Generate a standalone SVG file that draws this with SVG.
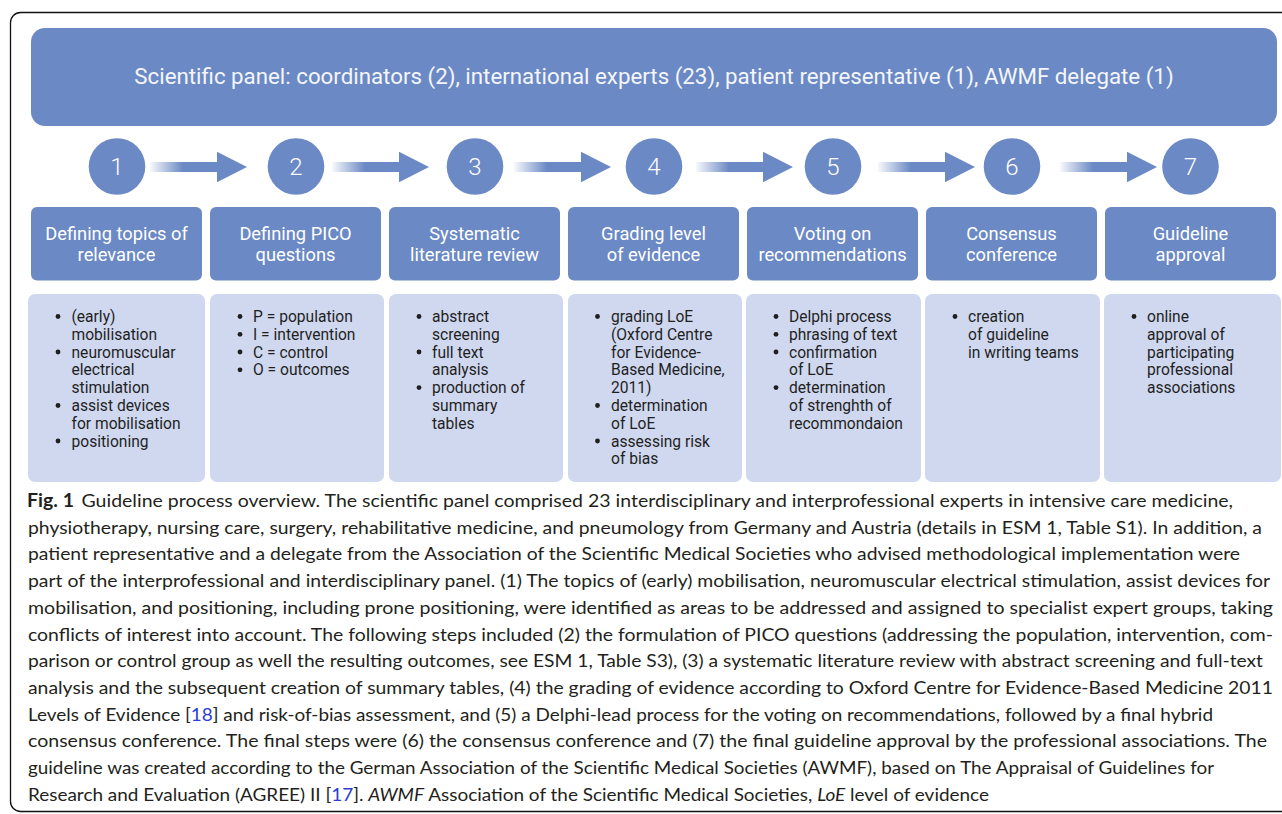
<svg xmlns="http://www.w3.org/2000/svg" width="1282" height="814" viewBox="0 0 1282 814">
  <style>
    .blue { fill: #6b89c4; }
    .pale { fill: #cfd8ef; }
    .banner-text { font-family: Roboto, "Liberation Sans", sans-serif; font-size: 22.3px; fill: #f4f6fb; text-anchor: middle; }
    .num { font-family: Roboto, "Liberation Sans", sans-serif; font-size: 24px; font-weight: 300; fill: #ffffff; text-anchor: middle; }
    .head { font-family: Roboto, "Liberation Sans", sans-serif; font-size: 18.3px; fill: #ffffff; text-anchor: middle; }
    .item { font-family: Roboto, "Liberation Sans", sans-serif; font-size: 15.6px; fill: #1f1f1f; }
    .dot { fill: #1f1f1f; }
    .cap { font-family: Lato, "Open Sans", sans-serif; font-size: 18px; fill: #231f20; }
    .cap .b { font-weight: bold; }
    .cap .i { font-style: italic; }
    .cap .ref { fill: #2a3fd8; }
  </style>
  <defs>
    <linearGradient id="fade" x1="0" y1="0" x2="1" y2="0">
      <stop offset="0" stop-color="#6b89c4" stop-opacity="0.05"/>
      <stop offset="0.34" stop-color="#6b89c4" stop-opacity="1"/>
      <stop offset="1" stop-color="#6b89c4" stop-opacity="1"/>
    </linearGradient>
    <path id="arrow" d="M0,-5 H67 V-15.3 L97,0 L67,15.3 V5 H0 Z"/>
    <circle id="dot" r="2.4"/>
  </defs>

  <!-- figure frame -->
  <rect x="10.5" y="12.5" width="1300" height="799" rx="10" fill="#ffffff" stroke="#111" stroke-width="1.3"/>

  <!-- panel banner -->
  <g id="panel">
    <rect class="blue" x="31" y="28" width="1246" height="98" rx="14"/>
    <text class="banner-text" x="654" y="84">Scientific panel: coordinators (2), international experts (23), patient representative (1), AWMF delegate (1)</text>
  </g>

  <!-- connectors between step numbers -->
  <g id="connectors" fill="url(#fade)">
    <use href="#arrow" transform="translate(150,167)"/>
    <use href="#arrow" transform="translate(332,167)"/>
    <use href="#arrow" transform="translate(514,167)"/>
    <use href="#arrow" transform="translate(696,167)"/>
    <use href="#arrow" transform="translate(878,167)"/>
    <use href="#arrow" transform="translate(1060,167)"/>
  </g>

  <!-- step 1 -->
  <g id="step1">
    <circle class="blue" cx="117" cy="166.5" r="28.3"/>
    <text class="num" x="117" y="175">1</text>
    <rect class="blue" x="31" y="207" width="171" height="73.5" rx="6"/>
    <text class="head" x="116.5" y="240">Defining topics of</text>
    <text class="head" x="116.5" y="261">relevance</text>
    <rect class="pale" x="28" y="294" width="177" height="188" rx="7"/>
    <g class="dot"><use href="#dot" x="58" y="316.5"/><use href="#dot" x="58" y="352"/><use href="#dot" x="58" y="405.5"/><use href="#dot" x="58" y="441"/></g>
    <text class="item" x="71.5" y="322">(early)</text>
    <text class="item" x="71.5" y="339.8">mobilisation</text>
    <text class="item" x="71.5" y="357.6">neuromuscular</text>
    <text class="item" x="71.5" y="375.4">electrical</text>
    <text class="item" x="71.5" y="393.2">stimulation</text>
    <text class="item" x="71.5" y="411">assist devices</text>
    <text class="item" x="71.5" y="428.8">for mobilisation</text>
    <text class="item" x="71.5" y="446.6">positioning</text>
  </g>

  <!-- step 2 -->
  <g id="step2">
    <circle class="blue" cx="296" cy="166.5" r="28.3"/>
    <text class="num" x="296" y="175">2</text>
    <rect class="blue" x="210" y="207" width="171" height="73.5" rx="6"/>
    <text class="head" x="295.5" y="240">Defining PICO</text>
    <text class="head" x="295.5" y="261">questions</text>
    <rect class="pale" x="210" y="294" width="174" height="188" rx="7"/>
    <g class="dot"><use href="#dot" x="240" y="316.5"/><use href="#dot" x="240" y="334.3"/><use href="#dot" x="240" y="352"/><use href="#dot" x="240" y="369.8"/></g>
    <text class="item" x="253" y="322">P = population</text>
    <text class="item" x="253" y="339.8">I = intervention</text>
    <text class="item" x="253" y="357.6">C = control</text>
    <text class="item" x="253" y="375.4">O = outcomes</text>
  </g>

  <!-- step 3 -->
  <g id="step3">
    <circle class="blue" cx="475" cy="166.5" r="28.3"/>
    <text class="num" x="475" y="175">3</text>
    <rect class="blue" x="389" y="207" width="171" height="73.5" rx="6"/>
    <text class="head" x="474.5" y="240">Systematic</text>
    <text class="head" x="474.5" y="261">literature review</text>
    <rect class="pale" x="389" y="294" width="174" height="188" rx="7"/>
    <g class="dot"><use href="#dot" x="419" y="316.5"/><use href="#dot" x="419" y="352"/><use href="#dot" x="419" y="387.6"/></g>
    <text class="item" x="432" y="322">abstract</text>
    <text class="item" x="432" y="339.8">screening</text>
    <text class="item" x="432" y="357.6">full text</text>
    <text class="item" x="432" y="375.4">analysis</text>
    <text class="item" x="432" y="393.2">production of</text>
    <text class="item" x="432" y="411">summary</text>
    <text class="item" x="432" y="428.8">tables</text>
  </g>

  <!-- step 4 -->
  <g id="step4">
    <circle class="blue" cx="654" cy="166.5" r="28.3"/>
    <text class="num" x="654" y="175">4</text>
    <rect class="blue" x="568" y="207" width="171" height="73.5" rx="6"/>
    <text class="head" x="653.5" y="240">Grading level</text>
    <text class="head" x="653.5" y="261">of evidence</text>
    <rect class="pale" x="568" y="294" width="174" height="188" rx="7"/>
    <g class="dot"><use href="#dot" x="597.5" y="316.5"/><use href="#dot" x="597.5" y="405.5"/><use href="#dot" x="597.5" y="441"/></g>
    <text class="item" x="611" y="322">grading LoE</text>
    <text class="item" x="611" y="339.8">(Oxford Centre</text>
    <text class="item" x="611" y="357.6">for Evidence-</text>
    <text class="item" x="611" y="375.4">Based Medicine,</text>
    <text class="item" x="611" y="393.2">2011)</text>
    <text class="item" x="611" y="411">determination</text>
    <text class="item" x="611" y="428.8">of LoE</text>
    <text class="item" x="611" y="446.6">assessing risk</text>
    <text class="item" x="611" y="464.4">of bias</text>
  </g>

  <!-- step 5 -->
  <g id="step5">
    <circle class="blue" cx="833" cy="166.5" r="28.3"/>
    <text class="num" x="833" y="175">5</text>
    <rect class="blue" x="747" y="207" width="171" height="73.5" rx="6"/>
    <text class="head" x="832.5" y="240">Voting on</text>
    <text class="head" x="832.5" y="261">recommendations</text>
    <rect class="pale" x="746" y="294" width="175" height="188" rx="7"/>
    <g class="dot"><use href="#dot" x="776" y="316.5"/><use href="#dot" x="776" y="334.3"/><use href="#dot" x="776" y="352"/><use href="#dot" x="776" y="387.6"/></g>
    <text class="item" x="789" y="322">Delphi process</text>
    <text class="item" x="789" y="339.8">phrasing of text</text>
    <text class="item" x="789" y="357.6">confirmation</text>
    <text class="item" x="789" y="375.4">of LoE</text>
    <text class="item" x="789" y="393.2">determination</text>
    <text class="item" x="789" y="411">of strenghth of</text>
    <text class="item" x="789" y="428.8">recommondaion</text>
  </g>

  <!-- step 6 -->
  <g id="step6">
    <circle class="blue" cx="1012" cy="166.5" r="28.3"/>
    <text class="num" x="1012" y="175">6</text>
    <rect class="blue" x="926" y="207" width="171" height="73.5" rx="6"/>
    <text class="head" x="1011.5" y="240">Consensus</text>
    <text class="head" x="1011.5" y="261">conference</text>
    <rect class="pale" x="925" y="294" width="175" height="188" rx="7"/>
    <g class="dot"><use href="#dot" x="955" y="316.5"/></g>
    <text class="item" x="968" y="322">creation</text>
    <text class="item" x="968" y="339.8">of guideline</text>
    <text class="item" x="968" y="357.6">in writing teams</text>
  </g>

  <!-- step 7 -->
  <g id="step7">
    <circle class="blue" cx="1190.5" cy="166.5" r="28.3"/>
    <text class="num" x="1190.5" y="175">7</text>
    <rect class="blue" x="1105" y="207" width="171" height="73.5" rx="6"/>
    <text class="head" x="1190.5" y="240">Guideline</text>
    <text class="head" x="1190.5" y="261">approval</text>
    <rect class="pale" x="1104" y="294" width="177" height="188" rx="7"/>
    <g class="dot"><use href="#dot" x="1134" y="316.5"/></g>
    <text class="item" x="1147" y="322">online</text>
    <text class="item" x="1147" y="339.8">approval of</text>
    <text class="item" x="1147" y="357.6">participating</text>
    <text class="item" x="1147" y="375.4">professional</text>
    <text class="item" x="1147" y="393.2">associations</text>
  </g>

  <!-- caption -->
  <g id="caption" class="cap">
    <text x="27" y="507" textLength="1206" lengthAdjust="spacingAndGlyphs"><tspan class="b">Fig. 1</tspan><tspan dx="7">Guideline process overview. The scientific panel comprised 23 interdisciplinary and interprofessional experts in intensive care medicine,</tspan></text>
    <text x="28" y="533.7" textLength="1234" lengthAdjust="spacingAndGlyphs">physiotherapy, nursing care, surgery, rehabilitative medicine, and pneumology from Germany and Austria (details in ESM 1, Table S1). In addition, a</text>
    <text x="28" y="560.4" textLength="1212" lengthAdjust="spacingAndGlyphs">patient representative and a delegate from the Association of the Scientific Medical Societies who advised methodological implementation were</text>
    <text x="28" y="587.1" textLength="1242" lengthAdjust="spacingAndGlyphs">part of the interprofessional and interdisciplinary panel. (1) The topics of (early) mobilisation, neuromuscular electrical stimulation, assist devices for</text>
    <text x="28" y="613.8" textLength="1245" lengthAdjust="spacingAndGlyphs">mobilisation, and positioning, including prone positioning, were identified as areas to be addressed and assigned to specialist expert groups, taking</text>
    <text x="28" y="640.5" textLength="1245" lengthAdjust="spacingAndGlyphs">conflicts of interest into account. The following steps included (2) the formulation of PICO questions (addressing the population, intervention, com-</text>
    <text x="28" y="667.2" textLength="1235" lengthAdjust="spacingAndGlyphs">parison or control group as well the resulting outcomes, see ESM 1, Table S3), (3) a systematic literature review with abstract screening and full-text</text>
    <text x="28" y="693.9" textLength="1245" lengthAdjust="spacingAndGlyphs">analysis and the subsequent creation of summary tables, (4) the grading of evidence according to Oxford Centre for Evidence-Based Medicine 2011</text>
    <text x="28" y="720.6" textLength="1185" lengthAdjust="spacingAndGlyphs">Levels of Evidence [<tspan class="ref">18</tspan>] and risk-of-bias assessment, and (5) a Delphi-lead process for the voting on recommendations, followed by a final hybrid</text>
    <text x="28" y="747.3" textLength="1239" lengthAdjust="spacingAndGlyphs">consensus conference. The final steps were (6) the consensus conference and (7) the final guideline approval by the professional associations. The</text>
    <text x="28" y="774" textLength="1186" lengthAdjust="spacingAndGlyphs">guideline was created according to the German Association of the Scientific Medical Societies (AWMF), based on The Appraisal of Guidelines for</text>
    <text x="28" y="800.7" textLength="961" lengthAdjust="spacingAndGlyphs">Research and Evaluation (AGREE) II [<tspan class="ref">17</tspan>]. <tspan class="i">AWMF</tspan> Association of the Scientific Medical Societies, <tspan class="i">LoE</tspan> level of evidence</text>
  </g>
</svg>
